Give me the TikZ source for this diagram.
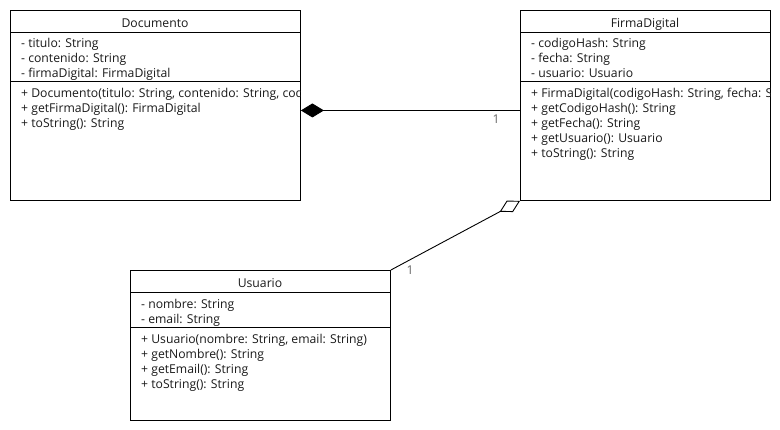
\documentclass[tikz,border=0pt]{standalone}
\usepackage{fontspec}
\setmainfont{Open Sans}
\usetikzlibrary{arrows.meta}
\definecolor{ink}{HTML}{1A1A1A}
\definecolor{mult}{HTML}{666666}
\tikzset{
  classbox/.style={draw=black, line width=0.9pt, fill=white, inner sep=0pt, anchor=north west},
  classtitle/.style={font=\fontsize{12.2}{14}\selectfont, text=ink, inner sep=0pt, anchor=base},
  member/.style={font=\fontsize{12.2}{14}\selectfont, text=ink, inner sep=0pt, anchor=base west},
  sep/.style={draw=black, line width=0.9pt},
  link/.style={draw=black, line width=0.9pt},
  multlabel/.style={font=\fontsize{12.2}{14}\selectfont, text=mult, inner sep=0pt},
}
\begin{document}
\begin{tikzpicture}[x=1pt,y=-1pt]
\useasboundingbox[fill=white] (0,0) rectangle (780,430);

% Documento
\node[classbox, minimum width=290pt, minimum height=190pt] (doc) at (10,10) {};
\node[classtitle] (docT) at (155,27.5) {Documento};
\draw[sep] (10,32) -- (300,32);
\draw[sep] (10,81) -- (300,81);
\begin{scope}
  \clip (10,10) rectangle (300,200);
  \node[member] (docA1) at (21,48) {- titulo: String};
  \node[member] (docA2) at (21,63) {- contenido: String};
  \node[member] (docA3) at (21,78) {- firmaDigital: FirmaDigital};
  \node[member] (docM1) at (21,97.5) {+ Documento(titulo: String, contenido: String, codigoHash: String)};
  \node[member] (docM2) at (21,112.5) {+ getFirmaDigital(): FirmaDigital};
  \node[member] (docM3) at (21,127.5) {+ toString(): String};
\end{scope}

% FirmaDigital
\node[classbox, minimum width=250pt, minimum height=190pt] (fd) at (520,10) {};
\node[classtitle] (fdT) at (645,27.5) {FirmaDigital};
\draw[sep] (520,32) -- (770,32);
\draw[sep] (520,81) -- (770,81);
\begin{scope}
  \clip (520,10) rectangle (770,200);
  \node[member] (fdA1) at (531,48) {- codigoHash: String};
  \node[member] (fdA2) at (531,63) {- fecha: String};
  \node[member] (fdA3) at (531,78) {- usuario: Usuario};
  \node[member] (fdM1) at (531,97.5) {+ FirmaDigital(codigoHash: String, fecha: String, usuario: Usuario)};
  \node[member] (fdM2) at (531,112.5) {+ getCodigoHash(): String};
  \node[member] (fdM3) at (531,127.5) {+ getFecha(): String};
  \node[member] (fdM4) at (531,142.5) {+ getUsuario(): Usuario};
  \node[member] (fdM5) at (531,157.5) {+ toString(): String};
\end{scope}

% Usuario
\node[classbox, minimum width=260pt, minimum height=150pt] (usu) at (130,270) {};
\node[classtitle] (usuT) at (260,287.5) {Usuario};
\draw[sep] (130,292) -- (390,292);
\draw[sep] (130,327) -- (390,327);
\begin{scope}
  \clip (130,270) rectangle (390,420);
  \node[member] (usuA1) at (141,308.5) {- nombre: String};
  \node[member] (usuA2) at (141,323.5) {- email: String};
  \node[member] (usuM1) at (141,343.5) {+ Usuario(nombre: String, email: String)};
  \node[member] (usuM2) at (141,358.5) {+ getNombre(): String};
  \node[member] (usuM3) at (141,373.5) {+ getEmail(): String};
  \node[member] (usuM4) at (141,388.5) {+ toString(): String};
\end{scope}

% Composition: Documento owns FirmaDigital
\draw[link, {Diamond[length=23pt, width=14pt]}-] ([yshift=-5pt]doc.east) -- ([yshift=-5pt]fd.west);
\node[multlabel] (m1) at (496,119) {1};

% Aggregation: FirmaDigital holds Usuario
\draw[link, -{Diamond[open, length=23pt, width=13pt]}] (usu.north east) -- (fd.south west);
\node[multlabel] (m2) at (410,270) {1};
\end{tikzpicture}
\end{document}
